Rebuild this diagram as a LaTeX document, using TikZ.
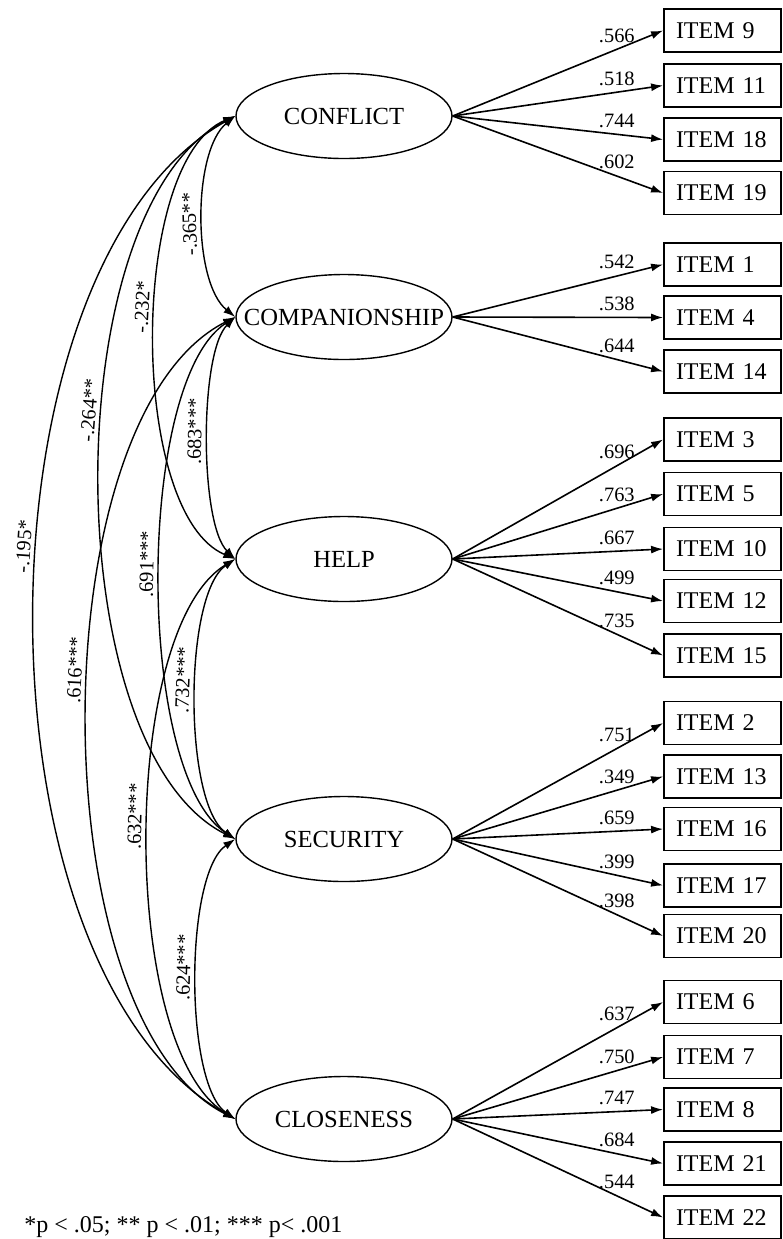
\documentclass[tikz,border=0pt]{standalone}
\usepackage{fontspec}
\setmainfont{Liberation Serif}
\usetikzlibrary{shapes.geometric,arrows.meta}

\tikzset{
  factor/.style={ellipse, draw, line width=0.7pt, minimum width=108pt, minimum height=42.5pt, inner sep=0pt, font=\fontsize{12.3}{14}\selectfont},
  item/.style={rectangle, draw, line width=0.9pt, minimum height=21.5pt, text width=46.5pt, inner xsep=6pt, inner ysep=0pt, align=left, font=\fontsize{12}{14}\selectfont},
  load/.style={line width=0.8pt, -{Latex[length=6pt,width=4pt]}},
  cov/.style={line width=0.7pt, {Latex[length=6pt,width=4pt]}-{Latex[length=6pt,width=4pt]}},
  ld/.style={above, inner sep=3pt, font=\fontsize{10.2}{12}\selectfont},
  corr/.style={sloped, allow upside down, above, inner sep=3pt, font=\fontsize{10.2}{12}\selectfont},
}

\begin{document}
\begin{tikzpicture}[x=0.5pt,y=-0.5pt]
        \useasboundingbox (0,0) rectangle (783,1239);
        % factors
        \node[factor] (conf) at (344,116) {\makebox[0pt]{CONFLICT}};
        \node[factor] (comp) at (344,317) {\makebox[0pt]{COMPANIONSHIP}};
        \node[factor] (help) at (344,559) {\makebox[0pt]{HELP}};
        \node[factor] (sec) at (344,839) {\makebox[0pt]{SECURITY}};
        \node[factor] (close) at (344,1119) {\makebox[0pt]{CLOSENESS}};
        % items
        \node[item] (i9) at (722.5,30.5) {ITEM 9};
        \node[item] (i11) at (722.5,85.5) {ITEM 11};
        \node[item] (i18) at (722.5,139.5) {ITEM 18};
        \node[item] (i19) at (722.5,193) {ITEM 19};
        \node[item] (i1) at (722.5,264.5) {ITEM 1};
        \node[item] (i4) at (722.5,317.5) {ITEM 4};
        \node[item] (i14) at (722.5,371.5) {ITEM 14};
        \node[item] (i3) at (722.5,439.5) {ITEM 3};
        \node[item] (i5) at (722.5,494) {ITEM 5};
        \node[item] (i10) at (722.5,549) {ITEM 10};
        \node[item] (i12) at (722.5,601) {ITEM 12};
        \node[item] (i15) at (722.5,655.5) {ITEM 15};
        \node[item] (i2) at (722.5,723) {ITEM 2};
        \node[item] (i13) at (722.5,776.5) {ITEM 13};
        \node[item] (i16) at (722.5,829) {ITEM 16};
        \node[item] (i17) at (722.5,885.5) {ITEM 17};
        \node[item] (i20) at (722.5,936) {ITEM 20};
        \node[item] (i6) at (722.5,1002) {ITEM 6};
        \node[item] (i7) at (722.5,1057) {ITEM 7};
        \node[item] (i8) at (722.5,1109.5) {ITEM 8};
        \node[item] (i21) at (722.5,1163.5) {ITEM 21};
        \node[item] (i22) at (722.5,1217.5) {ITEM 22};
        % loadings
        \draw[load] (conf.east) -- (i9.west) node[ld, pos=0.78] {.566};
        \draw[load] (conf.east) -- (i11.west) node[ld, pos=0.78] {.518};
        \draw[load] (conf.east) -- (i18.west) node[ld, pos=0.78] {.744};
        \draw[load] (conf.east) -- (i19.west) node[ld, pos=0.78] {.602};
        \draw[load] (comp.east) -- (i1.west) node[ld, pos=0.78] {.542};
        \draw[load] (comp.east) -- (i4.west) node[ld, pos=0.78] {.538};
        \draw[load] (comp.east) -- (i14.west) node[ld, pos=0.78] {.644};
        \draw[load] (help.east) -- (i3.west) node[ld, pos=0.78] {.696};
        \draw[load] (help.east) -- (i5.west) node[ld, pos=0.78] {.763};
        \draw[load] (help.east) -- (i10.west) node[ld, pos=0.78] {.667};
        \draw[load] (help.east) -- (i12.west) node[ld, pos=0.78] {.499};
        \draw[load] (help.east) -- (i15.west) node[ld, pos=0.78] {.735};
        \draw[load] (sec.east) -- (i2.west) node[ld, pos=0.78] {.751};
        \draw[load] (sec.east) -- (i13.west) node[ld, pos=0.78] {.349};
        \draw[load] (sec.east) -- (i16.west) node[ld, pos=0.78] {.659};
        \draw[load] (sec.east) -- (i17.west) node[ld, pos=0.78] {.399};
        \draw[load] (sec.east) -- (i20.west) node[ld, pos=0.78] {.398};
        \draw[load] (close.east) -- (i6.west) node[ld, pos=0.78] {.637};
        \draw[load] (close.east) -- (i7.west) node[ld, pos=0.78] {.750};
        \draw[load] (close.east) -- (i8.west) node[ld, pos=0.78] {.747};
        \draw[load] (close.east) -- (i21.west) node[ld, pos=0.78] {.684};
        \draw[load] (close.east) -- (i22.west) node[ld, pos=0.78] {.544};
        % correlations
        \draw[cov] (comp.west) .. controls +(-43,-35) and +(-43,35) .. (conf.west) node[corr, pos=0.47] {-.365**};
        \draw[cov] (help.west) .. controls +(-107,-45) and +(-107,45) .. (conf.west) node[corr, pos=0.55] {-.232*};
        \draw[cov] (sec.west) .. controls +(-180,-90) and +(-180,90) .. (conf.west) node[corr, pos=0.57] {-.264**};
        \draw[cov] (close.west) .. controls +(-267,-150) and +(-267,150) .. (conf.west) node[corr, pos=0.555] {-.195*};
        \draw[cov] (help.west) .. controls +(-36,-35) and +(-36,35) .. (comp.west) node[corr, pos=0.52] {.683***};
        \draw[cov] (sec.west) .. controls +(-100,-65) and +(-100,65) .. (comp.west) node[corr, pos=0.52] {.691***};
        \draw[cov] (close.west) .. controls +(-197,-100) and +(-197,100) .. (comp.west) node[corr, pos=0.545] {.616***};
        \draw[cov] (sec.west) .. controls +(-52,-35) and +(-52,35) .. (help.west) node[corr, pos=0.55] {.732***};
        \draw[cov] (close.west) .. controls +(-116,-70) and +(-116,70) .. (help.west) node[corr, pos=0.53] {.632***};
        \draw[cov] (close.west) .. controls +(-51,-35) and +(-51,35) .. (sec.west) node[corr, pos=0.53] {.624***};
        % note
        \node[anchor=base west, inner sep=0pt, font=\fontsize{12}{14}\selectfont] (note) at (24,1232) {*p < .05; ** p < .01; *** p< .001};
\end{tikzpicture}
\end{document}
